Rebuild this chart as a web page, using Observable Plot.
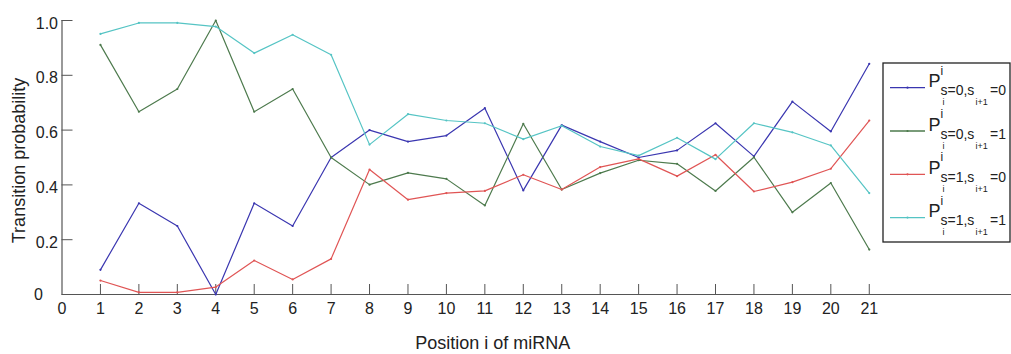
<!DOCTYPE html>
<html><head><meta charset="utf-8">
<script src="https://cdn.jsdelivr.net/npm/d3@7"></script>
<script src="https://cdn.jsdelivr.net/npm/@observablehq/plot@0.6"></script>
<style>
body{margin:0;background:#fff;}
#wrap{position:relative;width:1011px;height:354px;font-family:"Liberation Sans",Arial,sans-serif;}
#wrap svg{position:absolute;left:0;top:0;}
</style></head><body><div id="wrap"></div>
<script>
const positions = [1,2,3,4,5,6,7,8,9,10,11,12,13,14,15,16,17,18,19,20,21];
const p00 = [0.09,0.333,0.25,0,0.333,0.25,0.5,0.6,0.558,0.58,0.68,0.38,0.618,0.558,0.5,0.526,0.625,0.504,0.704,0.595,0.842];
const p01 = [0.911,0.667,0.75,1.0,0.667,0.75,0.5,0.401,0.444,0.422,0.325,0.623,0.383,0.443,0.49,0.477,0.378,0.501,0.3,0.407,0.164];
const p10 = [0.051,0.008,0.008,0.027,0.124,0.055,0.13,0.456,0.346,0.37,0.378,0.437,0.383,0.465,0.495,0.432,0.51,0.376,0.41,0.459,0.635];
const p11 = [0.951,0.991,0.991,0.978,0.881,0.948,0.875,0.547,0.658,0.635,0.625,0.567,0.616,0.54,0.507,0.572,0.494,0.625,0.592,0.544,0.37];
const seriesNames = ["P00","P01","P10","P11"];
const seriesValues = [p00,p01,p10,p11];
const seriesColors = ["#3a36b0","#4d7a4d","#e05555","#55c4c4"];
const legendSi = ["0","0","1","1"];
const legendSi1 = ["0","1","0","1"];
const xTickVals = [0,1,2,3,4,5,6,7,8,9,10,11,12,13,14,15,16,17,18,19,20,21];
const yTickVals = [0,0.2,0.4,0.6,0.8,1.0];
const xLabel = "Position i of miRNA";
const yLabel = "Transition probability";

const rows = [];
seriesNames.forEach((s,k)=>positions.forEach((p,i)=>rows.push({series:s,x:p,y:seriesValues[k][i]})));

const W = 1011, H = 354, mL = 61.5, mR = 0, mT = 20, mB = 60;
const frameW = W - mL - mR, frameH = H - mT - mB;
const font = "Liberation Sans, Arial, sans-serif";

const marks = [
  Plot.ruleY([0], {stroke:"#555", strokeWidth:1.2}),
  Plot.ruleX([0], {stroke:"#555", strokeWidth:1.2}),
  Plot.ruleX(xTickVals.filter(d=>d>0), {x:d=>d, stroke:"#555", insetTop: frameH-10}),
  Plot.ruleY(yTickVals, {y:d=>d, stroke:"#555", insetRight: frameW-11}),
  Plot.text(xTickVals, {x:d=>d, y:()=>0, text:d=>String(d), lineAnchor:"middle", dy:14, fontSize:16, fill:"#222"}),
  Plot.text([yLabel], {text:d=>d, frameAnchor:"left", textAnchor:"middle", lineAnchor:"middle", dx:-43, dy:3, rotate:-90, fontSize:18, fill:"#222"}),
  Plot.text([xLabel], {text:d=>d, frameAnchor:"bottom", textAnchor:"middle", lineAnchor:"middle", dx:-44, dy:49, fontSize:18, fill:"#222"})
];
seriesNames.forEach((s,k)=>{
  const d = rows.filter(r=>r.series===s);
  marks.push(Plot.line(d, {x:"x", y:"y", stroke:seriesColors[k], strokeWidth:1.2}));
  marks.push(Plot.dot(d, {x:"x", y:"y", r:1.1, fill:seriesColors[k], stroke:null}));
});

const chart = Plot.plot({
  width:W, height:H, marginLeft:mL, marginRight:mR, marginTop:mT, marginBottom:mB,
  style:{fontFamily:font, background:"#fff", overflow:"visible"},
  x:{domain:[0,24.7], axis:null},
  y:{domain:[0,1], axis:null},
  marks
});
document.getElementById("wrap").appendChild(chart);

const xs = chart.scale("x"), ys = chart.scale("y");
const ov = d3.select("#wrap").append("svg").attr("width",W).attr("height",H).style("font-family",font);

// y tick labels, positioned with the plot's scales
const x0 = xs.apply(0);
yTickVals.forEach(v=>{
  ov.append("text")
    .attr("x", v===0 ? x0-18.5 : x0-3.5)
    .attr("y", ys.apply(v) + (v===0 ? 0 : 3))
    .attr("dy","0.35em").attr("text-anchor","end").attr("font-size",16).attr("fill","#222")
    .text(v===0 ? "0" : v.toFixed(1));
});

// legend overlay
ov.append("rect").attr("x",883).attr("y",63).attr("width",127).attr("height",179)
  .attr("fill","#fff").attr("stroke","#222").attr("stroke-width",1.3);
seriesNames.forEach((s,i)=>{
  const L = 87.7 + i*43.3;
  ov.append("line").attr("x1",890).attr("x2",925).attr("y1",L).attr("y2",L)
    .attr("stroke",seriesColors[i]).attr("stroke-width",1.3);
  ov.append("circle").attr("cx",907.5).attr("cy",L).attr("r",1.1).attr("fill",seriesColors[i]);
  const t = (x,y,size,str)=>ov.append("text").attr("x",x).attr("y",y).attr("font-size",size).attr("fill","#222").text(str);
  t(928.5, L-0.5, 18, "P");
  t(940.5, L-13, 12, "i");
  t(940.5, L+7.5, 14, "s");
  t(942.5, L+17.5, 9, "i");
  t(947.5, L+7.5, 14, "=" + legendSi[i] + ",s");
  t(975.5, L+17.5, 9, "i+1");
  t(990, L+7.5, 14, "=" + legendSi1[i]);
});
</script></body></html>
